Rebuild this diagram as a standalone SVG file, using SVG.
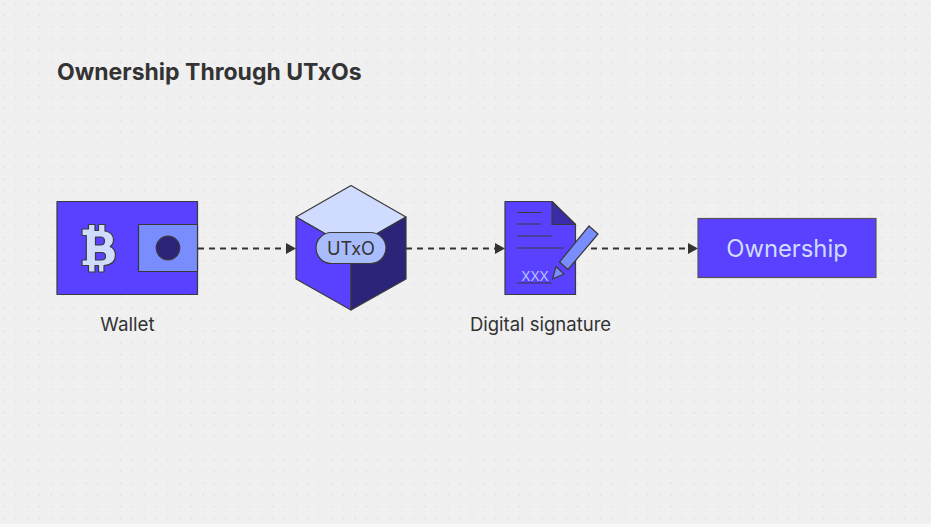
<svg xmlns="http://www.w3.org/2000/svg" width="931" height="527" viewBox="0 0 931 527">
<style>
.o{stroke:#3a3a3a;stroke-width:1.2;stroke-linejoin:round}
.t{font-family:Inter,"Liberation Sans",sans-serif;fill:#333}
.l{stroke:#3a3a3a;stroke-width:1.2;fill:none}
.c{stroke:#333;stroke-width:2;stroke-dasharray:6 5;fill:none;marker-end:url(#a)}
</style>
<defs>
<pattern id="d" width="11.7" height="11.7" patternUnits="userSpaceOnUse" x="-1.85" y="-2.35"><circle cx="5.85" cy="5.85" r="0.7" fill="#d6d6d6"/></pattern>
<marker id="a" markerUnits="userSpaceOnUse" markerWidth="11" markerHeight="12" refX="10" refY="5.5" orient="auto"><path d="M0 0L10 5.5L0 11Z" fill="#333"/></marker>
</defs>
<rect width="931" height="527" fill="#f0f0f0"/>
<rect width="931" height="527" fill="url(#d)"/>
<rect y="524" width="931" height="3" fill="#f8f8f8"/>
<text class="t" x="57" y="80" font-size="23" font-weight="700">Ownership Through UTxOs</text>
<g id="connectors">
<path class="c" d="M198 248.500H296"/>
<path class="c" d="M406 248.500H505"/>
<path class="c" d="M591 248.500H698"/>
</g>
<g id="wallet">
<rect class="o" x="57" y="201.500" width="140.500" height="93" fill="#5a40ff"/>
<path class="o" fill="#cfdcff" fill-rule="evenodd" d="M88.500 224.500h6.500v6h3.500v-6h6.500v6.500c6 1 8.500 4.500 8.500 9 0 3-1.200 5-3.300 6.500 3.200 1.500 5.300 4.500 5.300 8.500 0 6-4 10-11.500 10.500v6.500h-5.500v-6.500h-3.500v6.500h-6.500v-6.500h-6.500v-5.500h4.300v-24.500h-4.300v-6.500h6.500zM95.500 237v8h5c2.500 0 4-1.500 4-4s-1.500-4-4-4zM95.500 252.500v7.500h6c2.500 0 4-1.500 4-3.800s-1.500-3.700-4-3.700z"/>
<rect class="o" x="138.500" y="224.500" width="59" height="47" fill="#7a8dff"/>
<circle class="o" cx="168" cy="248" r="11.800" fill="#2b2478"/>
<text class="t" x="127.500" y="330.500" font-size="18.800" text-anchor="middle">Wallet</text>
</g>
<g id="utxo">
<path class="o" fill="#cfdcff" d="M351 185.500L406 217L351 248.500L296 217Z"/>
<path class="o" fill="#5a40ff" d="M296 217L351 248.500V310L296 279Z"/>
<path class="o" fill="#2b2478" d="M406 217L351 248.500V310L406 279Z"/>
<rect class="o" x="316" y="232.500" width="70" height="31" rx="15.500" fill="#a9bcfb"/>
<text class="t" x="351" y="254.500" font-size="18.200" text-anchor="middle">UTxO</text>
</g>
<g id="signature">
<path class="o" fill="#5a40ff" d="M505 201.500H552L575.500 224.500V294.500H505Z"/>
<path class="o" fill="#3b2da8" d="M552 201.500L575.500 224.500H552Z"/>
<path class="l" d="M517 212.500H541M517 224H541M517 236H552M517 248H564M517 283H552"/>
<text x="535" y="281" font-family="Inter,'Liberation Sans',sans-serif" font-size="13.500" fill="#b4c4ff" text-anchor="middle">XXX</text>
<path class="o" fill="#7a8dff" d="M589 226L598 234L568 269.500L559.500 262Z"/>
<path class="o" fill="#7a8dff" d="M556 266.500L564 274L552.500 279Z"/>
<text class="t" x="540.500" y="330.500" font-size="18.500" text-anchor="middle">Digital signature</text>
</g>
<g id="ownership">
<rect x="698" y="218.500" width="178" height="59" fill="#5a40ff" stroke="#555" stroke-width="1.200"/>
<text x="787" y="256.500" font-family="Inter,'Liberation Sans',sans-serif" font-size="23.800" fill="#cfdcff" text-anchor="middle">Ownership</text>
</g>
</svg>
